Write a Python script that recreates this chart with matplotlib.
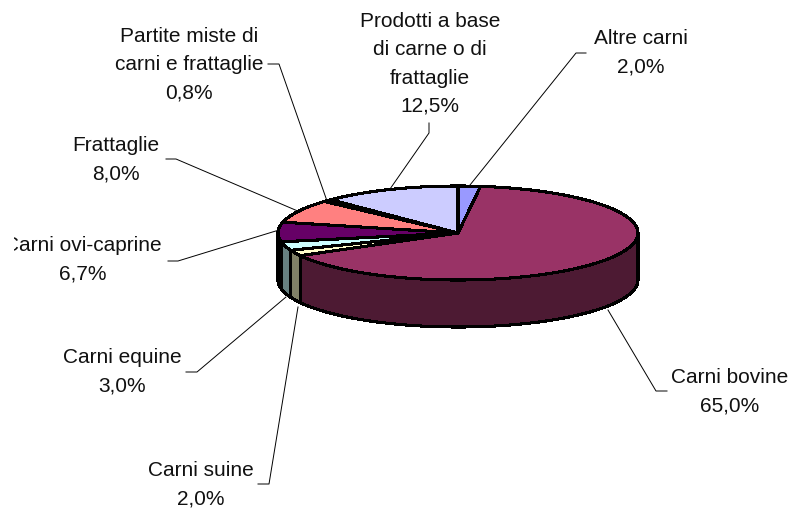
#!/usr/bin/env python3
import matplotlib
matplotlib.use("Agg")
import matplotlib.pyplot as plt
from matplotlib.transforms import Bbox
import numpy as np

names = ["Altre carni", "Carni bovine", "Carni suine", "Carni equine",
         "Carni ovi-caprine", "Frattaglie", "Partite miste di\ncarni e frattaglie",
         "Prodotti a base\ndi carne o di\nfrattaglie"]
values = [2.0, 65.0, 2.0, 3.0, 6.7, 8.0, 0.8, 12.5]
top_colors = ["#9999FF", "#993366", "#FFFFCC", "#CCFFFF",
              "#660066", "#FF8080", "#0066CC", "#CCCCFF"]
side_colors = ["#4D4D80", "#4D1A33", "#808066", "#668080",
               "#330033", "#804040", "#003366", "#666680"]

# pie geometry in pixels
CX, CY = 458, 233
RX, RY = 180, 47
DEPTH = 47
LW = 1.5

# label centre and leader polyline
label_pos = [(641, 53), (730, 392), (201, 485), (122, 372), (83, 260),
             (116, 160), (189, 65), (430, 64)]
leaders = [[(470, 185), (576, 53), (586, 53)],
           [(608, 310), (656, 391), (667, 391)],
           [(298, 307), (269, 484), (258, 484)],
           [(286, 297), (197, 372), (186, 372)],
           [(279, 230), (178, 261), (168, 261)],
           [(300, 212), (176, 159), (166, 159)],
           [(327, 201), (279, 64), (268, 64)],
           [(390, 189), (429, 133), (429, 123)]]


def rim(theta):
    return CX + RX * np.sin(theta), CY - RY * np.cos(theta)


fig = plt.figure(figsize=(7.91, 5.11), dpi=100)
ax = fig.add_axes([0, 0, 1, 1])
ax.set_xlim(0, 791)
ax.set_ylim(511, 0)
ax.axis("off")

edges = np.radians(np.concatenate([[0], np.cumsum(values)]) * 3.6)

# side wall, only the front half shows
for i in range(len(values)):
    a0, a1 = max(edges[i], np.pi / 2), min(edges[i + 1], 3 * np.pi / 2)
    if a1 <= a0:
        continue
    t = np.linspace(a0, a1, 80)
    x, y = rim(t)
    ax.fill(np.concatenate([x, x[::-1]]), np.concatenate([y, y[::-1] + DEPTH]),
            facecolor=side_colors[i], edgecolor="black", lw=LW, joinstyle="round",
            antialiased=False)

# top face
for i in range(len(values)):
    t = np.linspace(edges[i], edges[i + 1], 120)
    x, y = rim(t)
    ax.fill(np.concatenate([[CX], x]), np.concatenate([[CY], y]),
            facecolor=top_colors[i], edgecolor="black", lw=LW, joinstyle="round",
            antialiased=False)

# leaders and labels
clip = Bbox([[14, 0], [791, 511]])
for i in range(len(values)):
    px, py = zip(*leaders[i])
    ax.plot(px, py, color="black", lw=0.7, zorder=5)
    txt = names[i] + "\n" + f"{values[i]:.1f}%".replace(".", ",")
    t = ax.text(label_pos[i][0], label_pos[i][1], txt, ha="center", va="center",
                family="Liberation Sans", fontsize=15, linespacing=1.62, color="#111111", zorder=6)
    t.set_clip_box(clip)
    t.set_clip_on(True)

fig.savefig("out.png", dpi=100)
